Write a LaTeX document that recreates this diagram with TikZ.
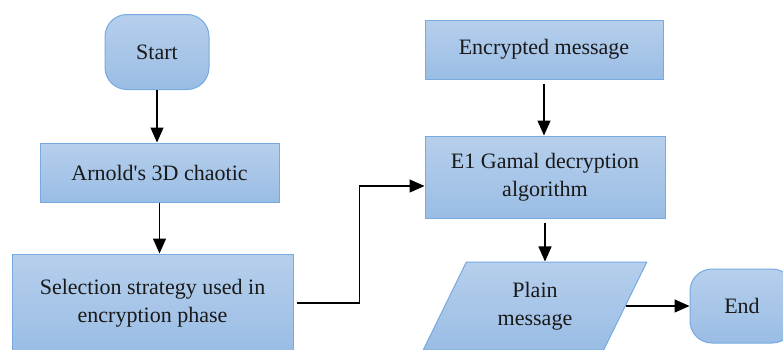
\documentclass[tikz,border=0pt]{standalone}
\usepackage{fontspec}
\setmainfont{Liberation Serif}
\usetikzlibrary{arrows.meta,shapes.geometric}
\definecolor{boxTop}{RGB}{182,207,236}
\definecolor{boxBottom}{RGB}{154,189,229}
\definecolor{boxLine}{RGB}{118,170,225}
\begin{document}
\begin{tikzpicture}
        [x=1pt, y=-1pt,
        box/.style={rectangle, draw=boxLine, top color=boxTop, bottom color=boxBottom, line width=1pt, align=center, inner sep=0pt, text=black!90, font=\rmfamily\fontsize{22}{28}\selectfont},
        term/.style={box, rounded corners=22pt},
        flow/.style={line width=1.3pt, -{Triangle[length=15pt, width=13pt]}}]
        \useasboundingbox (0,0) rectangle (783,349);
        \clip (0,0) rectangle (783,349);

        \node[term, minimum width=104pt, minimum height=75pt] (start) at (157,52) {Start};
        \node[box, minimum width=239pt, minimum height=59pt] (arnold) at (159.5,172.5) {Arnold\textquotesingle s 3D chaotic};
        \node[box, minimum width=281pt, minimum height=98pt] (select) at (152.5,303) {Selection strategy used in\\encryption phase};
        \node[box, minimum width=238pt, minimum height=59pt] (encrypted) at (544,49.5) {Encrypted message};
        \node[box, minimum width=240pt, minimum height=82pt] (elgamal) at (545,177) {E1 Gamal decryption\\algorithm};
        \node[box, shape=trapezium, trapezium left angle=64, trapezium right angle=116, trapezium stretches=true,
              minimum width=224pt, minimum height=88pt] (plain) at (535,306) {Plain\\message};
        \node[term, minimum width=104pt, minimum height=74pt] (end) at (742,306) {End};

        \draw[flow] (start.south) -- (start.south |- arnold.north);
        \draw[flow] (arnold.south) -- (arnold.south |- select.north);
        \draw[flow, shorten <=3pt] (select.east) -- ++(66,0) |- ([yshift=-9pt]elgamal.west);
        \draw[flow, shorten <=4pt] (encrypted.south) -- (encrypted.south |- elgamal.north);
        \draw[flow, shorten <=4pt] (elgamal.south) -- (elgamal.south |- plain.north);
        \draw[flow] (plain.east) -- (plain.east -| end.west);
    \end{tikzpicture}
\end{document}
